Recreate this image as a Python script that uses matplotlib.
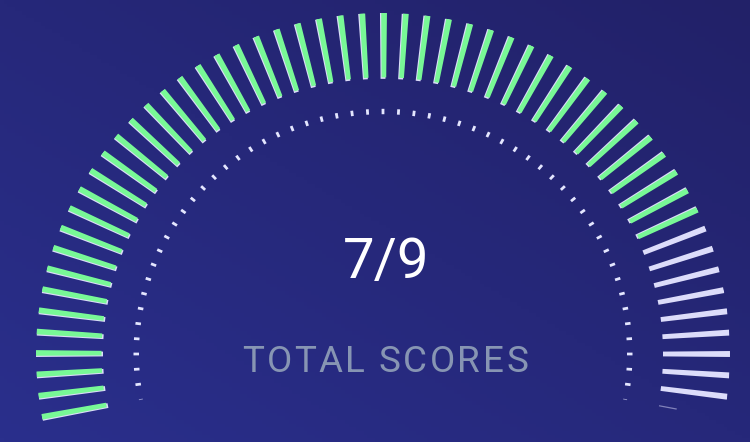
import numpy as np
import matplotlib.pyplot as plt

W, H = 750, 442

# values
score = 7
total = 9
label = "TOTAL SCORES"
n_green = 47        # filled ticks on the outer ring
n_light = 9         # empty ticks on the outer ring
n_dots = 55         # dashes on the inner dotted ring
tick_step = 3.6     # degrees between ticks
first_tick = 190.8  # angle of the first (left-bottom) tick, degrees
first_dot = 187.2

green = "#78f896"
light = "#dcdcfa"
dot_col = "#e4e6ff"
text_grey = "#8795b3"

fig = plt.figure(figsize=(7.5, 4.42), dpi=100)

# background with a soft diagonal gradient
bg = fig.add_axes([0, 0, 1, 1])
bg.set_xlim(0, W)
bg.set_ylim(H, 0)
bg.axis("off")
xx, yy = np.meshgrid(np.linspace(0, 1, 200), np.linspace(0, 1, 120))
t = (xx + (1 - yy)) / 2
c0 = np.array([42, 47, 140]) / 255   # bottom left
c1 = np.array([34, 33, 104]) / 255   # top right
img = c0[None, None, :] + (c1 - c0)[None, None, :] * t[..., None]
bg.imshow(img, extent=(0, W, H, 0), aspect="auto", zorder=0)

# polar axes for the gauge (slightly squashed vertically like the original)
cx, cy = 383, 354
rx, ry = 347, 341
ax = fig.add_axes([(cx - rx) / W, (H - cy - ry) / H, 2 * rx / W, 2 * ry / H],
                  projection="polar")
ax.set_aspect("auto")
ax.set_ylim(0, 347)
ax.set_facecolor("none")
ax.axis("off")

green_theta = np.radians(first_tick - tick_step * np.arange(n_green))
light_theta = np.radians(first_tick - tick_step * np.arange(n_green, n_green + n_light))
all_theta = np.concatenate([green_theta, light_theta])

ax.bar(all_theta, 67, width=np.radians(1.0), bottom=280, color=light, linewidth=0)
ax.bar(green_theta - np.radians(0.18), 66, width=np.radians(0.95), bottom=281.5,
       color=green, linewidth=0)
# partial last dash on the right end
ax.bar(np.radians(first_tick - tick_step * (n_green + n_light)), 18,
       width=np.radians(0.25), bottom=281, color=light, alpha=0.5, linewidth=0)

dot_theta = np.radians(first_dot - tick_step * np.arange(n_dots))
ax.bar(dot_theta, 5.5, width=np.radians(0.65), bottom=244, color=dot_col, linewidth=0)
for a in [first_dot + tick_step, first_dot - tick_step * n_dots]:
    ax.bar(np.radians(a), 4, width=np.radians(0.2), bottom=244.5, color=dot_col,
           alpha=0.6, linewidth=0)

# centre texts
bg.text(386, 278, f"{score}/{total}", ha="center", va="baseline",
        fontsize=40.5, color="white", family="Roboto", zorder=5)

# letter spaced label
fig.canvas.draw()
rend = fig.canvas.get_renderer()
x0, x1, base = 242, 528, 371.5
word_gap = 14
parts = []
for ch in label:
    if ch == " ":
        parts.append(None)
        continue
    tt = bg.text(0, base, ch, ha="left", va="baseline", fontsize=26.5,
                 color=text_grey, family="Roboto", zorder=5)
    parts.append((tt, tt.get_window_extent(renderer=rend).width))
ink = sum(p[1] for p in parts if p)
n_gaps = len([p for p in parts if p]) - 1 - label.count(" ")
track = (x1 - x0 - ink - word_gap) / n_gaps
x = x0
for p in parts:
    if p is None:
        x += word_gap - track
        continue
    p[0].set_x(x)
    x += p[1] + track

fig.savefig("out.png", dpi=100)
